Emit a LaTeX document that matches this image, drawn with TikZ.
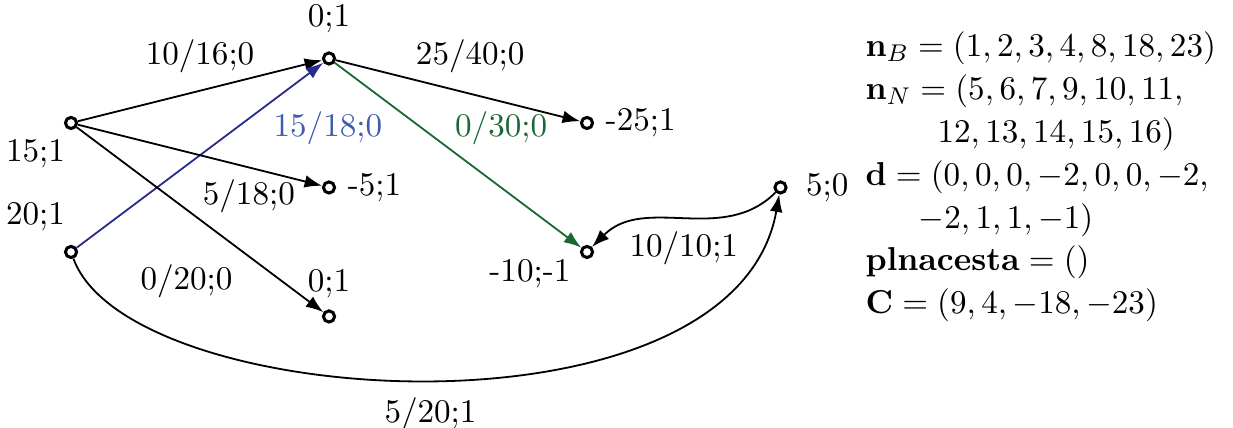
\documentclass[11pt,tikz,border=0pt]{standalone}
\usepackage{amsmath,amssymb}
\usepackage{tikz}
\usetikzlibrary{arrows.meta, positioning}
\definecolor{flowblue}{RGB}{40,44,140}
\definecolor{flowbluetxt}{RGB}{62,92,170}
\definecolor{flowgreen}{RGB}{28,104,52}

\begin{document}
\begin{tikzpicture}[
  vtx/.style={circle, draw, line width=1pt, fill=white, inner sep=0pt, minimum size=1.3mm},
  arc/.style={semithick, -{Latex[length=5.8pt, width=4.2pt]}}
]
  \useasboundingbox (-0.826,-2.047) rectangle (13.512,2.930);
  % vertices
  \node[vtx, label={[xshift=3.5pt]below left:15;1}] (a) at (0,1.5) {};
  \node[vtx, label={[xshift=3.5pt, yshift=1.5pt]above left:20;1}] (b) at (0,0) {};
  \node[vtx, label={[label distance=0.8mm]above:0;1}] (c) at (3,2.25) {};
  \node[vtx, label={right:-5;1}] (d) at (3,0.75) {};
  \node[vtx, label={above:0;1}] (e) at (3,-0.75) {};
  \node[vtx, label={right:-25;1}] (f) at (6,1.5) {};
  \node[vtx, label={[yshift=3pt]below left:-10;-1}] (g) at (6,0) {};
  \node[vtx, label={[label distance=0.8mm]right:5;0}] (h) at (8.25,0.75) {};
  % arcs
  \draw[arc] (a) -- node[above=2pt] {10/16;0} (c);
  \draw[arc, flowblue] (b) -- node[pos=0.75, below right, yshift=3pt, text=flowbluetxt] {15/18;0} (c);
  \draw[arc] (a) -- node[pos=0.7, below] {5/18;0} (d);
  \draw[arc] (a) -- node[pos=0.68, below left] {0/20;0} (e);
  \draw[arc] (c) -- node[pos=0.55, above=3pt] {25/40;0} (f);
  \draw[arc, flowgreen] (c) -- node[pos=0.44, above right, yshift=-4pt] {0/30;0} (g);
  \draw[arc] (h) to[out=-135, in=45] node[pos=0.5, below] {10/10;1} (g);
  \draw[arc] (b) to[out=-70, in=-100, out distance=1.9cm, in distance=3cm] node[below=2pt] {5/20;1} (h);
  % state of the algorithm
  \node[anchor=north west, inner sep=0pt, align=left, font=\fontsize{10.95}{14.2}\selectfont] (info) at (9.233,2.57) {%
    $\mathbf{n}_B = (1, 2, 3, 4, 8, 18, 23)$\\
    $\mathbf{n}_N = (5, 6, 7, 9, 10, 11,$\\
    \hspace*{23.8pt}$12, 13, 14, 15, 16)$\\
    $\mathbf{d} = (0, 0, 0, -2, 0, 0, -2,$\\
    \hspace*{17.5pt}$-2, 1, 1, -1)$\\
    $\mathbf{plnacesta} = ()$\\
    $\mathbf{C} = (9, 4, -18, -23)$};
\end{tikzpicture}
\end{document}
